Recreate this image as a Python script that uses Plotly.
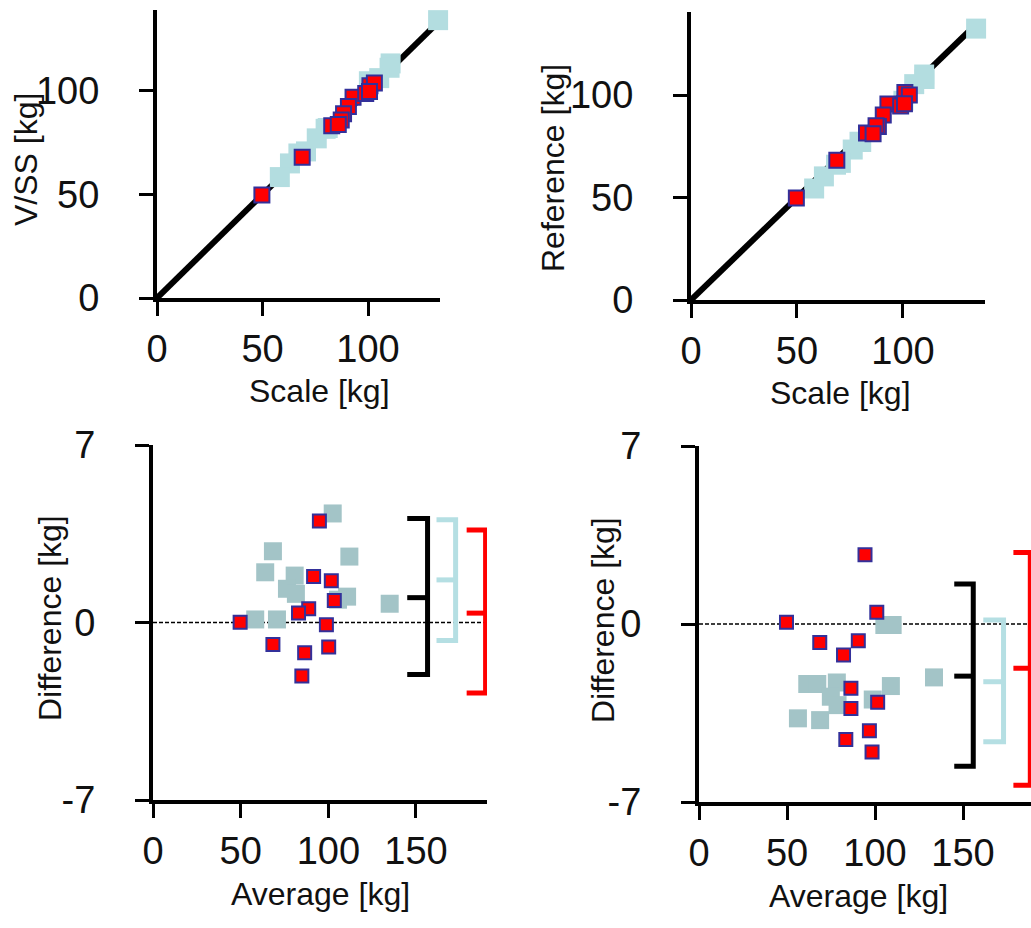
import plotly.graph_objects as go

W, H = 1031, 928

# ---------------- data ----------------
# Top-left: V/SS vs Scale
tl_red_scale = [92.9, 90.7, 100.9, 103.0, 88.4, 82.8, 49.7, 98.9, 68.8, 100.7, 87.3, 85.9]
tl_red_viss = [96.9, 92.5, 102.5, 103.8, 89.0, 83.2, 49.7, 98.8, 68.0, 99.7, 86.0, 83.8]
tl_blue_scale = [100.4, 67.0, 110.7, 63.0, 79.9, 75.7, 80.9, 110.2, 133.2, 58.2, 70.6, 105.3]
tl_blue_viss = [104.7, 69.8, 113.3, 65.0, 81.7, 77.1, 82.1, 111.2, 134.2, 58.4, 70.8, 106.2]

# Top-right: Reference vs Scale
tr_red_scale = [92.9, 90.7, 100.9, 103.0, 88.4, 82.8, 49.7, 98.9, 68.8, 100.7, 87.3, 85.9]
tr_red_ref = [95.6, 90.2, 101.2, 100.0, 84.6, 81.5, 49.7, 94.7, 68.2, 95.8, 85.0, 81.1]
tr_blue_scale = [105.3, 110.0, 134.5, 62.7, 68.4, 79.5, 110.2, 76.3, 80.3, 100.2, 58.1, 70.7]
tr_blue_ref = [105.3, 110.0, 132.4, 60.3, 66.0, 77.2, 107.8, 73.4, 77.1, 97.2, 54.4, 66.9]

# Bottom-left: Bland-Altman V/SS - Scale
bl_red_avg = [94.9, 91.6, 101.7, 103.4, 88.8, 83.0, 49.7, 98.9, 68.4, 100.2, 86.5, 84.9]
bl_red_diff = [4.0, 1.81, 1.65, 0.87, 0.54, 0.37, 0.01, -0.09, -0.87, -0.97, -1.19, -2.11]
bl_blue_avg = [102.5, 68.4, 112.0, 64.0, 80.8, 76.4, 81.5, 110.7, 135.0, 58.3, 70.7, 105.5]
bl_blue_diff = [4.3, 2.81, 2.6, 1.98, 1.85, 1.33, 1.13, 1.02, 0.74, 0.12, 0.12, 0.9]

# Bottom-right: Bland-Altman Reference - Scale
br_red_avg = [94.3, 101.0, 49.7, 68.6, 90.5, 82.1, 86.3, 101.5, 86.3, 96.8, 83.4, 98.3]
br_red_diff = [2.72, 0.46, 0.07, -0.73, -0.66, -1.22, -2.53, -3.08, -3.32, -4.2, -4.54, -5.03]
br_blue_avg = [105.3, 110.0, 133.5, 61.5, 67.2, 78.3, 109.0, 74.9, 78.7, 98.7, 56.2, 68.8]
br_blue_diff = [-0.04, -0.04, -2.1, -2.36, -2.36, -2.3, -2.44, -2.86, -3.19, -2.97, -3.71, -3.78]

# Bias / limits of agreement brackets: [upper, mean, lower] for all, blue, red groups
bl_all_loa = [4.1, 0.98, -2.05]
bl_blue_loa = [4.05, 1.68, -0.71]
bl_red_loa = [3.65, 0.37, -2.78]
br_all_loa = [1.57, -2.05, -5.59]
br_blue_loa = [0.16, -2.27, -4.63]
br_red_loa = [2.81, -1.74, -6.34]

x_ticks_top = [0, 50, 100]
y_ticks_top = [0, 50, 100]
x_ticks_bot = [0, 50, 100, 150]
y_ticks_bot = [-7, 0, 7]

# ---------------- style ----------------
RED = "#ff0000"
EDGE = "#33309a"
BLUE_TOP = "#b3dde0"
BLUE_BOT = "#a3c4c7"
BLUE_BR = "#b5dfe3"
FONT = "Liberation Sans, Arial, sans-serif"
TXT = "#111111"


def px2x(p):
    return p / W


def px2y(p):
    return 1 - p / H


fig = go.Figure()

# panel geometry in pixels: (left, right, top, bottom), ranges
panels = {
    "1": dict(l=157, r=440, t=10, b=298, xr=[0, 134.1], yr=[0, 139.1], xt=x_ticks_top, yt=y_ticks_top),
    "2": dict(l=691, r=985, t=12, b=300, xr=[0, 138.7], yr=[0, 140.5], xt=x_ticks_top, yt=y_ticks_top),
    "3": dict(l=153, r=487, t=445, b=800, xr=[0, 190.5], yr=[-7, 7], xt=x_ticks_bot, yt=y_ticks_bot),
    "4": dict(l=699, r=1031, t=446, b=802, xr=[0, 188.6], yr=[-7, 7], xt=x_ticks_bot, yt=y_ticks_bot),
}

layout_axes = {}
for k, p in panels.items():
    sfx = "" if k == "1" else k
    common = dict(
        showline=True, linecolor="black", linewidth=4, showgrid=False, zeroline=False,
        ticks="outside", ticklen=14, tickwidth=3, tickcolor="black",
        tickfont=dict(family=FONT, size=38, color=TXT),
        fixedrange=True, automargin=False,
    )
    layout_axes["xaxis" + sfx] = dict(
        common, domain=[px2x(p["l"]), px2x(p["r"])], range=p["xr"],
        tickvals=p["xt"], ticktext=[str(v) for v in p["xt"]],
        anchor="y" + sfx, ticklabelstandoff=0,
    )
    layout_axes["yaxis" + sfx] = dict(
        common, domain=[px2y(p["b"]), px2y(p["t"])], range=p["yr"],
        tickvals=p["yt"], ticktext=[str(v) for v in p["yt"]],
        anchor="x" + sfx, ticklabelstandoff=32,
    )


def sq(x, y, xa, ya, color, size, edge=None):
    m = dict(symbol="square", size=size, color=color)
    if edge:
        m["line"] = dict(color=edge, width=2)
    else:
        m["line"] = dict(width=0)
    return go.Scatter(x=x, y=y, mode="markers", marker=m, xaxis=xa, yaxis=ya,
                      showlegend=False, hoverinfo="skip", cliponaxis=False)


# Top panels: identity line, then points
for xa, ya, bs, bv, rs, rv in [
    ("x", "y", tl_blue_scale, tl_blue_viss, tl_red_scale, tl_red_viss),
    ("x2", "y2", tr_blue_scale, tr_blue_ref, tr_red_scale, tr_red_ref),
]:
    fig.add_trace(go.Scatter(x=[0, 131], y=[0, 131], mode="lines",
                             line=dict(color="black", width=6), xaxis=xa, yaxis=ya,
                             showlegend=False, hoverinfo="skip", cliponaxis=False))
    fig.add_trace(sq(bs, bv, xa, ya, BLUE_TOP, 20))
    fig.add_trace(sq(rs, rv, xa, ya, RED, 15, EDGE))


def bracket(xv, xa_arm, loa, xa, ya, color):
    up, mid, lo = loa
    xs = [xa_arm, xv, xv, xa_arm, None, xa_arm, xv]
    ys = [up, up, lo, lo, None, mid, mid]
    return go.Scatter(x=xs, y=ys, mode="lines", line=dict(color=color, width=5),
                      xaxis=xa, yaxis=ya, showlegend=False, hoverinfo="skip",
                      cliponaxis=False)


# Bottom-left
fig.add_trace(go.Scatter(x=[0, 190.5], y=[0, 0], mode="lines",
                         line=dict(color="black", width=1.5, dash="4px,2px"),
                         xaxis="x3", yaxis="y3", showlegend=False, hoverinfo="skip"))
fig.add_trace(sq(bl_blue_avg, bl_blue_diff, "x3", "y3", BLUE_BOT, 18))
fig.add_trace(sq(bl_red_avg, bl_red_diff, "x3", "y3", RED, 13, EDGE))
fig.add_trace(bracket(156.6, 145.0, bl_all_loa, "x3", "y3", "black"))
fig.add_trace(bracket(172.6, 161.7, bl_blue_loa, "x3", "y3", BLUE_BR))
fig.add_trace(bracket(189.7, 178.9, bl_red_loa, "x3", "y3", RED))

# Bottom-right
fig.add_trace(go.Scatter(x=[0, 188.6], y=[0, 0], mode="lines",
                         line=dict(color="black", width=1.5, dash="4px,2px"),
                         xaxis="x4", yaxis="y4", showlegend=False, hoverinfo="skip"))
fig.add_trace(sq(br_blue_avg, br_blue_diff, "x4", "y4", BLUE_BOT, 18))
fig.add_trace(sq(br_red_avg, br_red_diff, "x4", "y4", RED, 13, EDGE))
fig.add_trace(bracket(155.8, 145.0, br_all_loa, "x4", "y4", "black"))
fig.add_trace(bracket(173.0, 161.5, br_blue_loa, "x4", "y4", BLUE_BR))
fig.add_trace(bracket(188.2, 178.6, br_red_loa, "x4", "y4", RED))

# Axis titles as annotations
titles = [
    ("V/SS [kg]", 26, 160, -90),
    ("Reference [kg]", 553, 168, -90),
    ("Difference [kg]", 50, 618, -90),
    ("Difference [kg]", 603, 620, -90),
    ("Scale [kg]", 319, 391, 0),
    ("Scale [kg]", 840, 393, 0),
    ("Average [kg]", 320, 894, 0),
    ("Average [kg]", 858, 896, 0),
]
annotations = []
for txt, xp, yp, rot in titles:
    annotations.append(dict(
        text=txt, x=px2x(xp), y=px2y(yp), xref="paper", yref="paper",
        xanchor="center", yanchor="middle", showarrow=False, textangle=rot,
        font=dict(family=FONT, size=32, color=TXT),
    ))

fig.update_layout(
    width=W, height=H, margin=dict(l=0, r=0, t=0, b=0, autoexpand=False),
    paper_bgcolor="white", plot_bgcolor="white",
    showlegend=False, annotations=annotations,
    **layout_axes,
)

fig.write_html("out.html", config={"displayModeBar": False},
               post_script="document.body.style.margin='0px';")
